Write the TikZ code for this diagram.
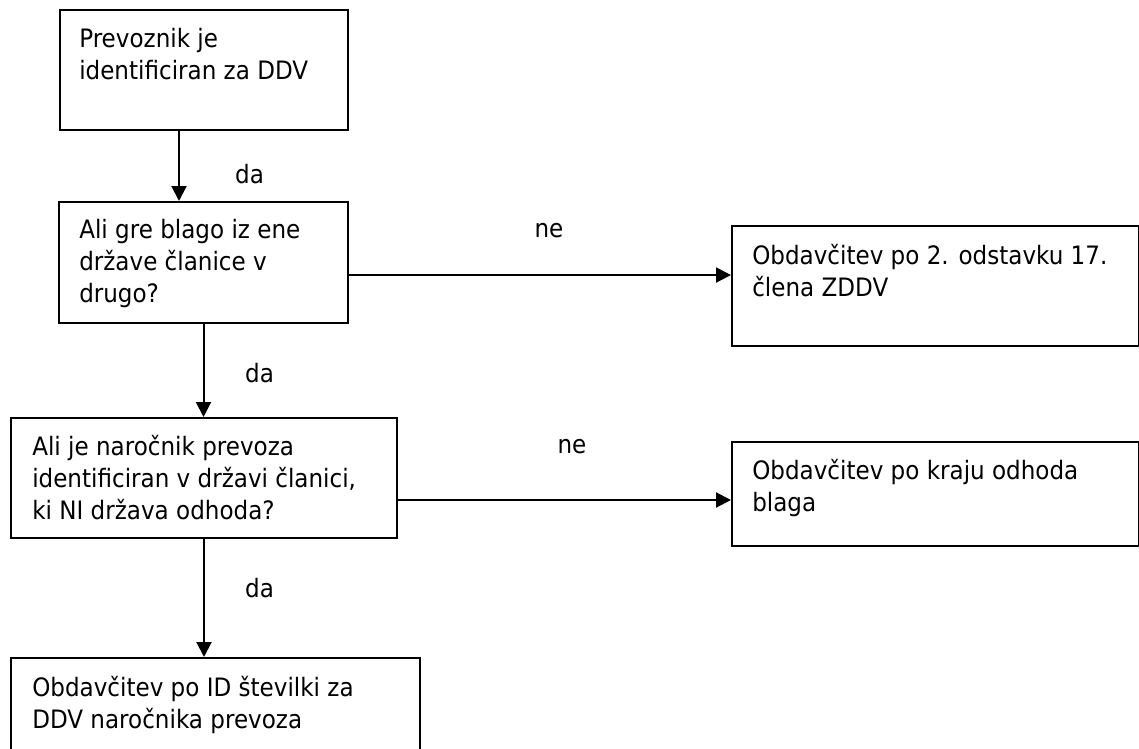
\documentclass[tikz,border=0pt]{standalone}
\usepackage{fontspec}
\setmainfont{DejaVu Sans}[FakeStretch=0.91]
\usetikzlibrary{arrows.meta}
\begin{document}
\begin{tikzpicture}[x=0.75pt,y=-0.75pt,
  box/.style={draw=black, line width=1.5pt, inner sep=0pt, anchor=north west},
  txt/.style={inner sep=0pt, anchor=north west, align=left, font=\fontsize{19}{24}\selectfont},
  lbl/.style={inner sep=0pt, anchor=base, font=\fontsize{19}{24}\selectfont},
  arr/.style={line width=1.5pt, -{Triangle[length=11.25pt,width=11.25pt]}}]
\useasboundingbox (0,0) rectangle (1139,749);
\clip (0,0) rectangle (1139,749);
% boxes
\node[box, minimum width=216pt, minimum height=90pt] (b1) at (59,9) {};
\node[box, minimum width=216.75pt, minimum height=90.75pt] (b2) at (58,201) {};
\node[box, minimum width=305.25pt, minimum height=90pt] (b3) at (731,225) {};
\node[box, minimum width=289.5pt, minimum height=90pt] (b4) at (10,417) {};
\node[box, minimum width=305.25pt, minimum height=78pt] (b6) at (731,441) {};
\node[box, minimum width=306.75pt, minimum height=97.5pt] (b5) at (10,657) {};
% texts
\node[txt] (t1) at (79,28) {Prevoznik je\\identificiran za DDV};
\node[txt] (t2) at (79,219) {Ali gre blago iz ene\\države članice v\\drugo?};
\node[txt] (t3) at (752,244) {Obdavčitev po 2. odstavku 17.\\člena ZDDV};
\node[txt] (t4) at (32,435) {Ali je naročnik prevoza\\identificiran v državi članici,\\ki NI država odhoda?};
\node[txt] (t6) at (752,459) {Obdavčitev po kraju odhoda\\blaga};
\node[txt] (t5) at (32,676) {Obdavčitev po ID številki za\\DDV naročnika prevoza};
% connectors
\draw[arr] ([xshift=90pt]b1.south west) coordinate (a1) -- (a1 |- b2.north);
\draw[arr] (b2.south) -- (b2.south |- b4.north);
\draw[arr] (b4.south) -- (b4.south |- b5.north);
\draw[arr] ([yshift=-9.4pt]b2.east) coordinate (a2) -- (a2 -| b3.west);
\draw[arr] ([yshift=-16.5pt]b4.east) coordinate (a3) -- (a3 -| b6.west);
% labels
\node[lbl] (l1) at (249.5,183) {da};
\node[lbl] (l2) at (259.5,382) {da};
\node[lbl] (l3) at (259.5,597) {da};
\node[lbl] (l4) at (549,237) {ne};
\node[lbl] (l5) at (572,453) {ne};
\end{tikzpicture}
\end{document}
